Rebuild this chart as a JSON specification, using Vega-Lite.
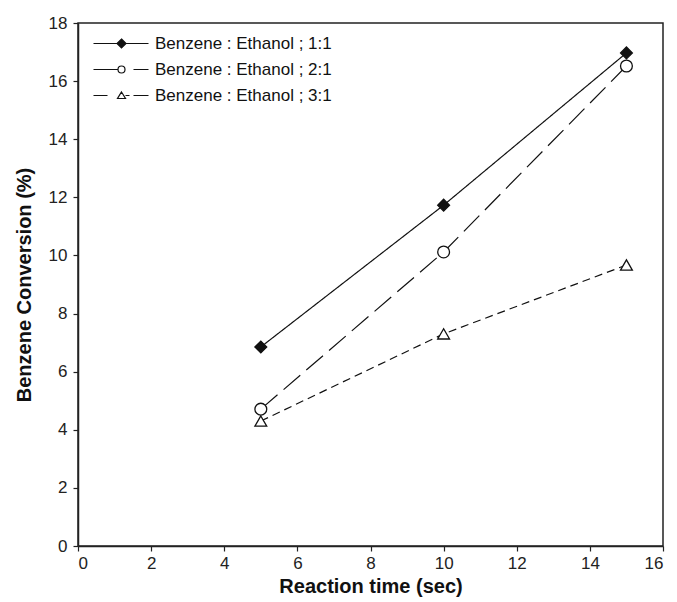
{
  "$schema": "https://vega.github.io/schema/vega-lite/v6.json",
  "width": 585,
  "height": 523,
  "autosize": {"type": "none"},
  "padding": {"left": 78, "top": 23, "right": 14, "bottom": 56},
  "background": "white",
  "config": {
    "font": "Liberation Sans",
    "view": {"stroke": "#222", "strokeWidth": 1.5},
    "axis": {
      "grid": false,
      "domainColor": "#222",
      "domainWidth": 1.5,
      "tickColor": "#222",
      "tickSize": 5,
      "tickWidth": 1.2,
      "labelFont": "Liberation Sans",
      "labelFontSize": 17,
      "labelColor": "#222",
      "titleFont": "Liberation Sans",
      "titleFontSize": 20,
      "titleFontWeight": "bold",
      "titleColor": "#111"
    },
    "legend": {
      "orient": "none",
      "legendX": 35,
      "legendY": 12,
      "symbolSize": 4,
      "symbolOpacity": 1,
      "symbolStrokeWidth": 1.2,
      "labelFontSize": 17,
      "labelFont": "Liberation Sans",
      "labelColor": "#111",
      "labelLimit": 400,
      "labelOffset": 25,
      "rowPadding": 8,
      "padding": 0
    }
  },
  "data": {
    "values": [
      {"series": "Benzene : Ethanol ; 1:1", "time": 5, "conversion": 6.85},
      {"series": "Benzene : Ethanol ; 1:1", "time": 10, "conversion": 11.73},
      {"series": "Benzene : Ethanol ; 1:1", "time": 15, "conversion": 16.97},
      {"series": "Benzene : Ethanol ; 2:1", "time": 5, "conversion": 4.71},
      {"series": "Benzene : Ethanol ; 2:1", "time": 10, "conversion": 10.12},
      {"series": "Benzene : Ethanol ; 2:1", "time": 15, "conversion": 16.52},
      {"series": "Benzene : Ethanol ; 3:1", "time": 5, "conversion": 4.3},
      {"series": "Benzene : Ethanol ; 3:1", "time": 10, "conversion": 7.3},
      {"series": "Benzene : Ethanol ; 3:1", "time": 15, "conversion": 9.67}
    ]
  },
  "encoding": {
    "x": {
      "field": "time", "type": "quantitative",
      "scale": {"domain": [0, 16], "nice": false},
      "axis": {"title": "Reaction time (sec)", "values": [0,2,4,6,8,10,12,14,16], "labelPadding": 4, "titlePadding": 5}
    },
    "y": {
      "field": "conversion", "type": "quantitative",
      "scale": {"domain": [0, 18], "nice": false},
      "axis": {"title": "Benzene Conversion (%)", "values": [0,2,4,6,8,10,12,14,16,18], "labelPadding": 6, "titlePadding": 14}
    }
  },
  "layer": [
    {
      "mark": {"type": "line", "color": "#111", "strokeWidth": 1.2},
      "encoding": {
        "detail": {"field": "series"},
        "strokeDash": {
          "condition": [
            {"test": "datum.series === 'Benzene : Ethanol ; 1:1'", "value": [1, 0]},
            {"test": "datum.series === 'Benzene : Ethanol ; 2:1'", "value": [22, 8]}
          ],
          "value": [8, 5]
        }
      }
    },
    {
      "mark": {"type": "point", "filled": false, "stroke": "#111", "strokeWidth": 1.3, "size": 140, "opacity": 1},
      "encoding": {
        "fill": {
          "condition": {"test": "datum.series === 'Benzene : Ethanol ; 1:1'", "value": "#111"},
          "value": "white"
        },
        "shape": {
          "condition": [
            {"test": "datum.series === 'Benzene : Ethanol ; 1:1'", "value": "diamond"},
            {"test": "datum.series === 'Benzene : Ethanol ; 2:1'", "value": "circle"}
          ],
          "value": "triangle-up"
        }
      }
    },
    {
      "mark": {"type": "point", "filled": true, "strokeWidth": 1.2, "opacity": 0},
      "encoding": {
        "shape": {
          "field": "series", "type": "nominal",
          "scale": {"range": [
            "M-28,0H27M0,-4.5L4.5,0L0,4.5L-4.5,0Z",
            "M-28,0H-3.5M12,0H27M3.5,0A3.5,3.5 0 1,1 -3.5,0A3.5,3.5 0 1,1 3.5,0Z",
            "M-28,0H-14M4,0H8M12,0H27M0,-3.5L4,3L-4,3Z"
          ]},
          "legend": {"title": null}
        },
        "fill": {
          "field": "series", "type": "nominal",
          "scale": {"range": ["#111", "white", "white"]},
          "legend": {"title": null}
        },
        "stroke": {
          "field": "series", "type": "nominal",
          "scale": {"range": ["#111", "#111", "#111"]},
          "legend": {"title": null}
        }
      }
    }
  ]
}
